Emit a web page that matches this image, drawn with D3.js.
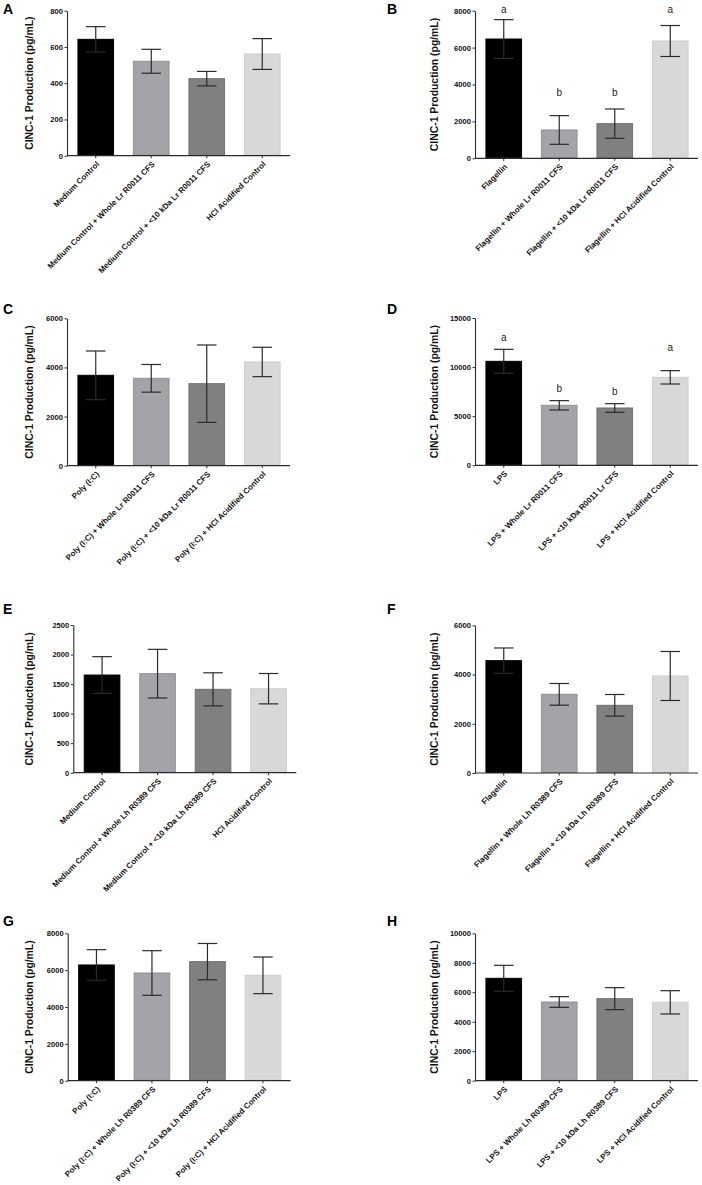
<!DOCTYPE html>
<html>
<head>
<meta charset="utf-8">
<script src="https://cdn.jsdelivr.net/npm/d3@7"></script>
<style>
  body { margin: 0; background: #fff; }
  svg { display: block; font-family: "Liberation Sans", Arial, Helvetica, sans-serif; }
</style>
</head>
<body>
<svg id="fig" width="702" height="1185"></svg>
<script>
// CINC-1 production, eight panels (A-H), mean +/- error
const panelIds = ['A', 'B', 'C', 'D', 'E', 'F', 'G', 'H'];

const labelsA = ['Medium Control', 'Medium Control + Whole Lr R0011 CFS', 'Medium Control + <10 kDa Lr R0011 CFS', 'HCl Acidified Control'];
const labelsB = ['Flagellin', 'Flagellin + Whole Lr R0011 CFS', 'Flagellin + <10 kDa Lr R0011 CFS', 'Flagellin + HCl Acidified Control'];
const labelsC = ['Poly (I:C)', 'Poly (I:C) + Whole Lr R0011 CFS', 'Poly (I:C) + <10 kDa  Lr R0011 CFS', 'Poly (I:C) + HCl Acidified Control'];
const labelsD = ['LPS', 'LPS + Whole Lr R0011 CFS', 'LPS + <10 kDa R0011 Lr CFS', 'LPS + HCl Acidified Control'];
const labelsE = ['Medium Control', 'Medium Control + Whole Lh R0389 CFS', 'Medium Control + <10 kDa Lh R0389 CFS', 'HCl Acidified Control'];
const labelsF = ['Flagellin', 'Flagellin + Whole Lh R0389 CFS', 'Flagellin + <10 kDa Lh R0389 CFS', 'Flagellin + HCl Acidified Control'];
const labelsG = ['Poly (I:C)', 'Poly (I:C) + Whole Lh R0389 CFS', 'Poly (I:C) + <10 kDa Lh R0389 CFS', 'Poly (I:C) + HCl Acidified Control'];
const labelsH = ['LPS', 'LPS + Whole Lh R0389 CFS', 'LPS + <10 kDa Lh R0389 CFS', 'LPS + HCl Acidified Control'];

const meansA = [642, 521, 425, 561];
const errA = [70, 66, 40, 85];
const meansB = [6465, 1535, 1878, 6357];
const errB = [1050, 777, 795, 840];
const meansC = [3679, 3557, 3339, 4222];
const errC = [990, 563, 1575, 598];
const meansD = [10588, 6109, 5837, 8959];
const errD = [1220, 475, 440, 680];
const meansE = [1653, 1676, 1411, 1422];
const errE = [311, 412, 280, 257];
const meansF = [4564, 3196, 2749, 3941];
const errF = [515, 440, 440, 995];
const meansG = [6281, 5846, 6462, 5719];
const errG = [830, 1210, 985, 995];
const meansH = [6946, 5339, 5566, 5317];
const errH = [880, 362, 745, 790];

const yMax = [800, 8000, 6000, 15000, 2500, 6000, 8000, 10000];
const yStep = [200, 2000, 2000, 5000, 500, 2000, 2000, 2000];

// significance letters (B and D only), with the value height they sit at
const lettersB = ['a', 'b', 'b', 'a'];
const letterValB = [8036, 3521, 3521, 8036];
const lettersD = ['a', 'b', 'b', 'a'];
const letterValD = [12930, 7771, 7432, 11912];

const allLabels = [labelsA, labelsB, labelsC, labelsD, labelsE, labelsF, labelsG, labelsH];
const allMeans = [meansA, meansB, meansC, meansD, meansE, meansF, meansG, meansH];
const allErr = [errA, errB, errC, errD, errE, errF, errG, errH];
const allLetters = { B: [lettersB, letterValB], D: [lettersD, letterValD] };

// layout of each panel on the page
const layout = [
  { ax: 67, top: 10.7, zero: 155.7, tag: [3, 13.5], title: 29.5 },
  { ax: 475, top: 10.7, zero: 158.3, tag: [387, 13.5], title: 434 },
  { ax: 67, top: 318.3, zero: 465.7, tag: [3, 313.5], title: 29.5 },
  { ax: 475, top: 318, zero: 465.3, tag: [387, 313.5], title: 434 },
  { ax: 73.3, top: 625, zero: 772.7, tag: [3, 613.5], title: 29.5 },
  { ax: 475, top: 625.3, zero: 773, tag: [387, 613.5], title: 434 },
  { ax: 67.7, top: 933.3, zero: 1080.7, tag: [3, 925.5], title: 29.5 },
  { ax: 475, top: 933.3, zero: 1080.7, tag: [387, 925.5], title: 434 }
];

const barFill = ['#000000', '#a3a3a8', '#808080', '#d8d8d8'];
const barStroke = ['#000000', '#909095', '#6f6f6f', '#cdcdcd'];
const inkColor = '#2b2b2b';

const svg = d3.select('#fig');

panelIds.forEach((id, i) => {
  const L = layout[i];
  const labels = allLabels[i];
  const means = allMeans[i];
  const errs = allErr[i];
  const g = svg.append('g').attr('class', 'panel-' + id);

  const x = d3.scaleBand()
    .domain(labels)
    .range([L.ax + 1, L.ax + 223])
    .paddingInner(0.34)
    .paddingOuter(0.17);
  const y = d3.scaleLinear().domain([0, yMax[i]]).range([L.zero, L.top]);
  const cx = d => x(d) + x.bandwidth() / 2;

  // bars
  g.selectAll('.bar').data(labels).join('rect')
    .attr('class', 'bar')
    .attr('x', d => x(d) + 0.5)
    .attr('width', x.bandwidth() - 1)
    .attr('y', (d, j) => y(means[j]))
    .attr('height', (d, j) => y(0) - y(means[j]) - 0.5)
    .attr('fill', (d, j) => barFill[j])
    .attr('stroke', (d, j) => barStroke[j])
    .attr('stroke-width', 1);

  // error bars
  const capW = 19.5;
  const eb = g.selectAll('.err').data(labels).join('g').attr('class', 'err')
    .attr('stroke', inkColor).attr('stroke-width', 1.2).attr('fill', 'none');
  eb.append('line')
    .attr('x1', cx).attr('x2', cx)
    .attr('y1', (d, j) => y(means[j] - errs[j])).attr('y2', (d, j) => y(means[j] + errs[j]));
  eb.append('line')
    .attr('x1', d => cx(d) - capW / 2).attr('x2', d => cx(d) + capW / 2)
    .attr('y1', (d, j) => y(means[j] + errs[j])).attr('y2', (d, j) => y(means[j] + errs[j]));
  eb.append('line')
    .attr('x1', d => cx(d) - capW / 2).attr('x2', d => cx(d) + capW / 2)
    .attr('y1', (d, j) => y(means[j] - errs[j])).attr('y2', (d, j) => y(means[j] - errs[j]));

  // y axis
  const yAxis = d3.axisLeft(y)
    .tickValues(d3.range(0, yMax[i] + 1, yStep[i]))
    .tickFormat(d3.format('d'))
    .tickSize(2.5)
    .tickSizeOuter(0)
    .tickPadding(1.5);
  const yg = g.append('g').attr('transform', `translate(${L.ax},0)`).call(yAxis);
  yg.select('.domain').attr('stroke', inkColor).attr('stroke-width', 1.1);
  yg.selectAll('.tick line').attr('stroke', inkColor);
  yg.selectAll('.tick text')
    .attr('fill', '#111')
    .style('font-size', '7.6px')
    .style('font-weight', 'bold');

  // x axis
  const xAxis = d3.axisBottom(x).tickSize(2.5).tickSizeOuter(0).tickFormat('');
  const xg = g.append('g').attr('transform', `translate(0,${L.zero})`).call(xAxis);
  xg.select('.domain').attr('stroke', inkColor).attr('stroke-width', 1.2)
    .attr('d', `M${L.ax},0H${L.ax + 223}`);
  xg.selectAll('.tick line').attr('stroke', inkColor);

  g.selectAll('.xlab').data(labels).join('text')
    .attr('class', 'xlab')
    .attr('transform', d => `translate(${cx(d) + 2},${L.zero + 7}) rotate(-45)`)
    .attr('text-anchor', 'end')
    .attr('dy', '0.35em')
    .attr('fill', '#111')
    .style('font-size', '8px')
    .style('font-weight', 'bold')
    .text(d => d);

  // axis title
  g.append('text')
    .attr('transform', `translate(${L.title},${(L.top + L.zero) / 2}) rotate(-90)`)
    .attr('text-anchor', 'middle')
    .attr('dy', '0.35em')
    .attr('fill', '#111')
    .style('font-size', '10.4px')
    .style('font-weight', 'bold')
    .text('CINC-1 Production (pg/mL)');

  // panel tag
  g.append('text')
    .attr('x', L.tag[0]).attr('y', L.tag[1])
    .attr('fill', '#000')
    .style('font-size', '14px')
    .style('font-weight', 'bold')
    .text(id);

  // significance letters
  if (allLetters[id]) {
    const [letters, vals] = allLetters[id];
    g.selectAll('.sig').data(labels).join('text')
      .attr('class', 'sig')
      .attr('x', cx)
      .attr('y', (d, j) => y(vals[j]))
      .attr('dy', '0.3em')
      .attr('text-anchor', 'middle')
      .attr('fill', '#222')
      .style('font-size', '10px')
      .text((d, j) => letters[j]);
  }
});
</script>
</body>
</html>
